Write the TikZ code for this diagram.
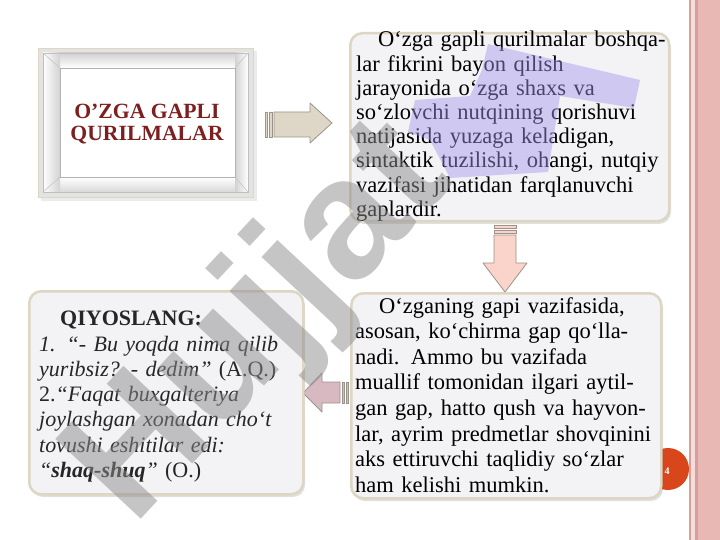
\documentclass[tikz,border=0pt]{standalone}
\usepackage{fontspec}
\setmainfont{Liberation Serif}
\newfontfamily\wmfont{Liberation Sans}
\definecolor{stripeA}{HTML}{E8B8B5}
\definecolor{stripeB}{HTML}{D99E9A}
\definecolor{stripeC}{HTML}{F4DEDC}
\definecolor{boxfill}{HTML}{F3F2F5}
\definecolor{boxedge}{HTML}{DDD6C3}
\definecolor{titlered}{HTML}{7E1F1F}
\definecolor{beigearrow}{HTML}{DED6C6}
\definecolor{pinkarrow}{HTML}{FAD3CA}
\definecolor{mauvearrow}{HTML}{D8B9C1}
\definecolor{arrowline}{HTML}{9A948C}
\definecolor{numcircle}{HTML}{DA461C}
\definecolor{wmgray}{HTML}{8C8C8C}
\definecolor{wmpurple}{HTML}{A498F0}
\newcommand\myfullline[1]{\makebox[\hsize][s]{#1}\\}
\tikzset{
  infobox/.style={rounded corners=12pt, fill=boxfill, draw=boxedge, line width=2.5pt},
  boxshadow/.style={rounded corners=12pt, fill=black, opacity=0.12},
  bodytext/.style={inner sep=0pt, align=left, text=black},
  blockarrow/.style={draw=arrowline, line width=0.8pt, line join=round},
}
\begin{document}
\begin{tikzpicture}[x=1pt,y=-1pt]
\useasboundingbox (0,0) rectangle (720,540);
\fill[white] (0,0) rectangle (720,540);
% right stripe
\fill[stripeA] (689,0) rectangle (720,540);
\fill[stripeB] (689,0) rectangle (690.5,540);
\fill[stripeC] (690.5,0) rectangle (695,540);
\fill[stripeB] (695,0) rectangle (697.5,540);

% title frame
\fill[black,opacity=0.08] (41,51) rectangle (257,201);
\node[draw=boxedge, fill=gray!22, line width=1pt, minimum width=215pt, minimum height=149pt, inner sep=0pt, anchor=north west] (frame) at (38,48) {};
\shade[top color=gray!35, bottom color=white] (43,53) rectangle (248,68);
\shade[top color=white, bottom color=gray!30] (43,177) rectangle (248,192);
\shade[left color=white, right color=gray!35] (43,53) rectangle (60,192);
\shade[left color=gray!35, right color=white] (235,53) rectangle (248,192);
\draw[gray!45, line width=0.6pt] (43,53) -- (60,68) (248,53) -- (235,68) (43,192) -- (60,177) (248,192) -- (235,177);
\draw[gray!50, line width=0.6pt] (43,53) rectangle (248,192);
\node[fill=white, draw=gray!60, line width=1.2pt, minimum width=175pt, minimum height=109pt, inner sep=0pt, anchor=north west] (titlebox) at (60,68) {};
\node[text=titlered, font=\fontsize{21.7}{22}\selectfont\bfseries, align=center, inner sep=0pt] (title) at (147,124) {O’ZGA GAPLI\\QURILMALAR};

% block arrows
\fill[beigearrow] (265,112) rectangle (267.5,137) (269,112) rectangle (272,137);
\draw[arrowline, line width=0.5pt] (265,112) rectangle (267.5,137) (269,112) rectangle (272,137);
\draw[blockarrow, fill=beigearrow] (274,112) -- (310,112) -- (310,103) -- (332,123) -- (310,143) -- (310,137) -- (274,137) -- cycle;

\fill[pinkarrow] (494,225) rectangle (516,228) (494,230) rectangle (516,233);
\draw[arrowline, line width=0.5pt] (494,225) rectangle (516,228) (494,230) rectangle (516,233);
\draw[blockarrow, fill=pinkarrow] (494,235) -- (516,235) -- (516,263) -- (527,263) -- (505,292) -- (483,263) -- (494,263) -- cycle;

\fill[mauvearrow] (342,382) rectangle (344,403) (346,382) rectangle (348,403);
\draw[arrowline, line width=0.5pt] (342,382) rectangle (344,403) (346,382) rectangle (348,403);
\draw[blockarrow, fill=mauvearrow] (340,382) -- (322,382) -- (322,373) -- (303,393) -- (322,412) -- (322,403) -- (340,403) -- cycle;

% page number (behind the lower box)
\node[circle, fill=numcircle, minimum size=42pt, inner sep=0pt] (num) at (668,469) {};
\node[text=white, font=\fontsize{10}{10}\selectfont\bfseries, inner sep=0pt] (numtext) at (667,471) {4};

% top right box
\fill[boxshadow] (352,36) rectangle (671,224);
\node[infobox, minimum width=319pt, minimum height=188pt, anchor=north west, inner sep=0pt] (box1) at (349,32) {};
\node[bodytext, text width=306pt, anchor=north west, font=\fontsize{22.5}{24.2}\selectfont] (text1) at (356,31) {\myfullline{\hspace*{22pt}Oʻzga gapli qurilmalar boshqa-}\myfullline{lar fikrini bayon qilish}\myfullline{jarayonida oʻzga shaxs va}\myfullline{soʻzlovchi nutqining qorishuvi}\myfullline{natijasida yuzaga keladigan,}\myfullline{sintaktik tuzilishi, ohangi, nutqiy}\myfullline{vazifasi jihatidan farqlanuvchi}gaplardir.};

% bottom right box
\fill[boxshadow] (353,296) rectangle (663,501);
\node[infobox, minimum width=310pt, minimum height=205pt, anchor=north west, inner sep=0pt] (box2) at (350,292) {};
\node[bodytext, text width=302pt, anchor=north west, font=\fontsize{22.5}{25.6}\selectfont] (text2) at (355,297) {\myfullline{\hspace*{24pt}Oʻzganing gapi vazifasida,}\myfullline{asosan, koʻchirma gap qoʻlla-}\myfullline{nadi. Ammo bu vazifada}\myfullline{muallif tomonidan ilgari aytil-}\myfullline{gan gap, hatto qush va hayvon-}\myfullline{lar, ayrim predmetlar shovqinini}\myfullline{aks ettiruvchi taqlidiy soʻzlar}ham kelishi mumkin.};

% bottom left box
\fill[boxshadow] (31,294) rectangle (305,497);
\node[infobox, minimum width=274pt, minimum height=203pt, anchor=north west, inner sep=0pt] (box3) at (28,290) {};
\node[bodytext, text width=249pt, anchor=north west, font=\fontsize{22}{25.3}\selectfont, text=black!85] (text3) at (39,311) {\hspace*{21pt}\textbf{QIYOSLANG:}\\\myfullline{\textit{1. “- Bu yoqda nima qilib}}\myfullline{\textit{yuribsiz? - dedim”} (A.Q.)}\myfullline{2.\textit{“Faqat buxgalteriya}}\myfullline{\textit{joylashgan xonadan choʻt}}\myfullline{\textit{tovushi eshitilar edi:}}\textit{“\textbf{shaq-shuq}”} (O.)};

% watermark
\node[rotate=47, text=wmgray, opacity=0.5, font=\fontsize{170}{170}\wmfont\bfseries, inner sep=0pt] (wm) at (262,325) {Hujjat};
\fill[wmpurple, opacity=0.45] (488,44) -- (640,80) -- (634,108) -- (560,96) -- (548,172) -- (450,178) -- (430,140) -- (408,132) -- (415,100) -- (470,96) -- (482,70) -- cycle;
\end{tikzpicture}
\end{document}
